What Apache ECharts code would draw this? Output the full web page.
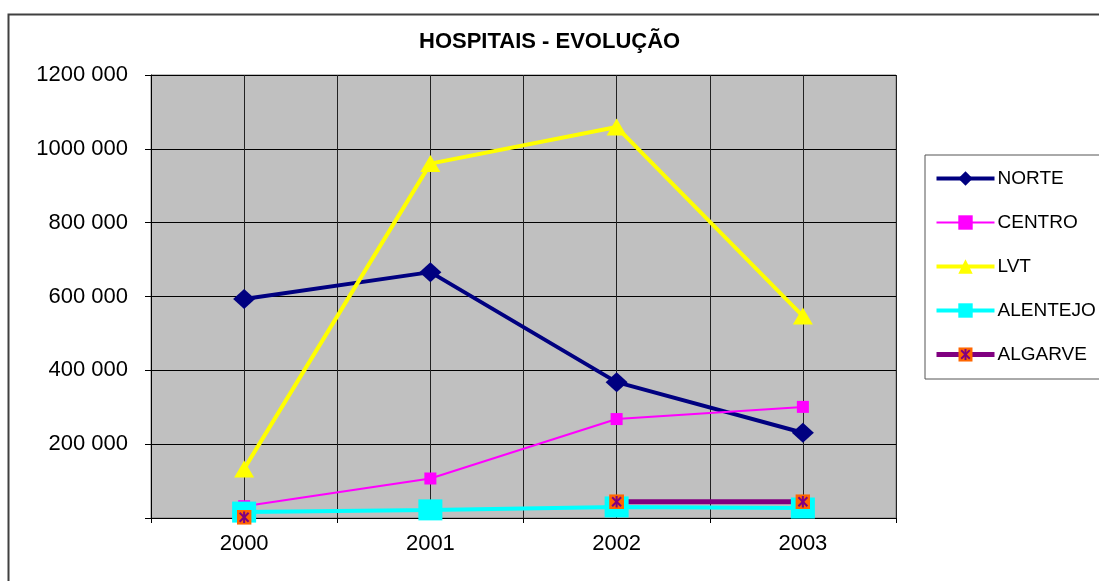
<!DOCTYPE html>
<html>
<head>
<meta charset="utf-8">
<title>Hospitais - Evolução</title>
<script src="https://cdn.jsdelivr.net/npm/echarts@6/dist/echarts.min.js"></script>
<style>
    html, body { margin: 0; padding: 0; background: #fff; }
    #chart { width: 1099px; height: 581px; }
</style>
</head>
<body>
<div id="chart"></div>
<script>
    // data
    const years = ['2000', '2001', '2002', '2003']
    const norte = [593000, 666000, 368000, 231000]
    const centro = [32000, 107000, 268000, 301000]
    const lvt = [133000, 960000, 1059000, 547000]
    const alentejo = [16000, 22000, 30000, 27000]
    const algarve = [2000, null, 44000, 44000]

    const fontFamily = '"Liberation Sans", Arial, sans-serif'

    // orange square with purple star, like the excel marker
    const algarveMark = 'image://data:image/svg+xml;utf8,' + encodeURIComponent(
        '<svg xmlns="http://www.w3.org/2000/svg" width="16" height="16" viewBox="0 0 16 16">' +
        '<rect x="0" y="0" width="16" height="16" fill="#FF6600"/>' +
        '<g stroke="#800080" stroke-width="2.2" stroke-linecap="square">' +
        '<line x1="4" y1="4" x2="12" y2="12"/><line x1="12" y1="4" x2="4" y2="12"/>' +
        '<line x1="8" y1="3" x2="8" y2="13"/></g></svg>')

    function yLabel(v) {
        if (v === 0) return ''
        const s = String(v)
        return s.slice(0, -3) + ' ' + s.slice(-3)
    }

    const chart = echarts.init(document.getElementById('chart'))

    chart.setOption({
        backgroundColor: '#fff',
        animation: false,
        textStyle: { fontFamily },
        title: {
            text: 'HOSPITAIS - EVOLUÇÃO',
            left: 419,
            top: 31,
            padding: 0,
            textStyle: { fontSize: 22, fontWeight: 'bold', color: '#000', fontFamily }
        },
        graphic: [{
            // outer chart frame
            type: 'rect',
            left: 6,
            top: 12,
            shape: { width: 1200, height: 700 },
            style: { fill: null, stroke: '#404040', lineWidth: 2 },
            silent: true
        }],
        legend: {
            orient: 'vertical',
            left: 925,
            top: 155,
            padding: [14, 30, 15, 9],
            itemWidth: 58,
            itemHeight: 18,
            itemGap: 25,
            borderColor: '#555',
            borderWidth: 1,
            lineStyle: { width: 'inherit' },
            textStyle: { fontSize: 19, color: '#000', padding: [0, 0, 0, -2], fontFamily },
            data: ['NORTE', 'CENTRO', 'LVT', 'ALENTEJO', 'ALGARVE']
        },
        grid: {
            left: 151,
            right: 203,
            top: 75,
            bottom: 63,
            show: true,
            backgroundColor: '#C0C0C0',
            borderColor: '#808080',
            borderWidth: 1
        },
        xAxis: [{
            type: 'category',
            data: years,
            boundaryGap: true,
            axisLine: { lineStyle: { color: '#000', width: 1 } },
            axisTick: { show: true, length: 5, lineStyle: { color: '#000' } },
            axisLabel: { fontSize: 22, color: '#000', margin: 15, fontFamily },
            splitLine: { show: false }
        }, {
            // half-category vertical grid lines
            type: 'value',
            min: 0,
            max: 8,
            interval: 1,
            position: 'bottom',
            axisLine: { show: false },
            axisTick: { show: false },
            axisLabel: { show: false },
            splitLine: { show: true, lineStyle: { color: '#222', width: 1 } }
        }],
        yAxis: {
            type: 'value',
            min: 0,
            max: 1200000,
            interval: 200000,
            axisLine: { show: true, lineStyle: { color: '#000', width: 1 } },
            axisTick: { show: true, length: 6, lineStyle: { color: '#000' } },
            axisLabel: { fontSize: 22, color: '#000', margin: 23, formatter: yLabel, fontFamily },
            splitLine: { show: true, lineStyle: { color: '#000', width: 1 } }
        },
        series: [{
            name: 'NORTE',
            type: 'line',
            data: norte,
            color: '#000080',
            symbol: 'diamond',
            symbolSize: [22, 20],
            lineStyle: { width: 4, color: '#000080' },
            itemStyle: { color: '#000080' }
        }, {
            name: 'CENTRO',
            type: 'line',
            data: centro,
            color: '#FF00FF',
            symbol: 'rect',
            symbolSize: 12,
            lineStyle: { width: 2, color: '#FF00FF' },
            itemStyle: { color: '#FF00FF' }
        }, {
            name: 'LVT',
            type: 'line',
            data: lvt,
            color: '#FFFF00',
            symbol: 'triangle',
            symbolSize: [20, 17],
            lineStyle: { width: 4, color: '#FFFF00' },
            itemStyle: { color: '#FFFF00' }
        }, {
            name: 'ALENTEJO',
            type: 'line',
            data: alentejo,
            color: '#00FFFF',
            symbol: 'rect',
            symbolSize: [24, 21],
            lineStyle: { width: 4, color: '#00FFFF' },
            itemStyle: { color: '#00FFFF' }
        }, {
            name: 'ALGARVE',
            type: 'line',
            data: algarve,
            color: '#800080',
            connectNulls: false,
            symbol: algarveMark,
            symbolSize: 15,
            lineStyle: { width: 5, color: '#800080' },
            itemStyle: { color: '#800080' }
        }]
    })
</script>
</body>
</html>
